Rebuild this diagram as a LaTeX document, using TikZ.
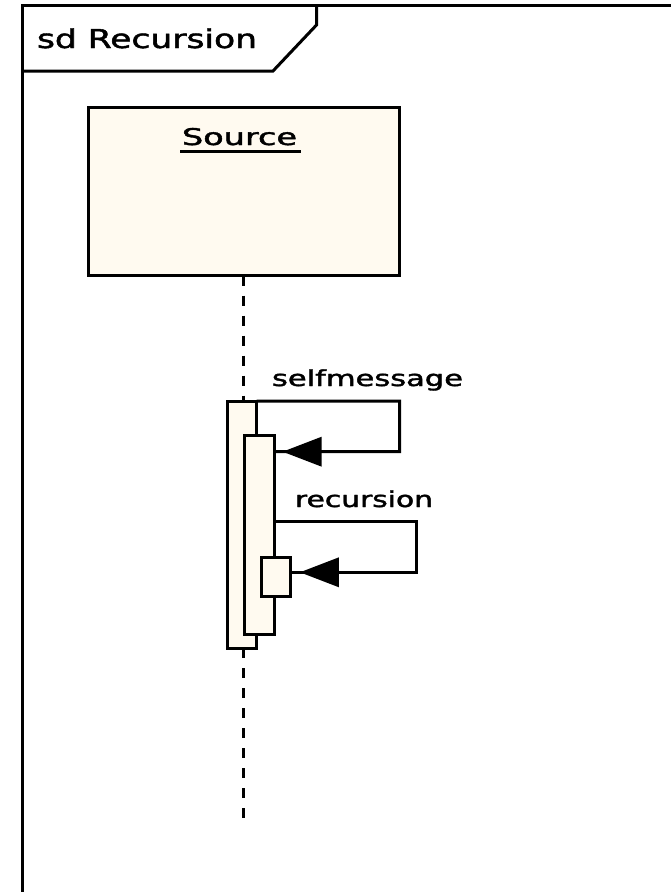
\documentclass[tikz,border=0pt]{standalone}
\usepackage{fontspec}
\usepackage{graphicx}
\newfontfamily\pixfont[FakeBold=1.6]{DejaVu Sans}
\usetikzlibrary{calc}
\definecolor{cream}{RGB}{255,250,240}
\begin{document}
\begin{tikzpicture}[x=1pt,y=-1pt,line width=3pt,
  box/.style={draw=black,fill=cream,line width=3pt,inner sep=0pt,outer sep=0pt,rectangle},
  lbl/.style={inner sep=0pt,outer sep=0pt,font=\pixfont},
  life/.style={line width=3pt,dash pattern=on 10pt off 10pt},
  msg/.style={line width=3pt},
  head/.style={fill=black}
]
\useasboundingbox (0,0) rectangle (670,892);
\fill[white] (0,0) rectangle (670,892);
% frame
\draw (22.5,895) -- (22.5,5.5) -- (672,5.5);
\draw (22.5,71) -- (273,71) -- (316.5,25) -- (316.5,5.5);
\node[lbl,anchor=base west] (title) at (37,48) {\fontsize{26}{30}\selectfont\resizebox{220pt}{\height}{sd Recursion}};
% lifeline head
\node[box,minimum width=311pt,minimum height=168.5pt] (src) at (243.5,191.25) {};
\node[lbl,anchor=base] (srclabel) at (239.5,145) {\fontsize{23}{27}\selectfont\resizebox{115pt}{\height}{Source}};
\draw ($(srclabel.base west)+(-2,6.5)$) -- ($(srclabel.base east)+(4,6.5)$);
% lifeline
\coordinate (lifeend) at (243.5,828);
\node[box,minimum width=29.2pt,minimum height=247.3pt] (outer) at (242.1,524.7) {};
\draw[life] (src.south -| lifeend) -- (outer.north -| lifeend);
\draw[life] (outer.south -| lifeend) -- (lifeend);
\node[box,minimum width=30pt,minimum height=199.3pt] (inner) at (259.3,535.3) {};
\node[box,minimum width=29.3pt,minimum height=39.4pt] (small) at (276.3,577) {};
% selfmessage
\coordinate (smret) at (inner.east |- 0,451.7);
\draw[msg] (outer.north east) -- (399.5,401) |- (smret);
\fill[head] ($(smret)+(8.4,0)$) -- ++(39,-15) -- ++(0,30) -- cycle;
\node[lbl,anchor=base west] (smlabel) at (272,386) {\fontsize{22}{26}\selectfont\resizebox{191pt}{\height}{selfmessage}};
% recursion
\coordinate (recout) at (inner.east |- 0,521.7);
\coordinate (recret) at (small.east |- 0,572.3);
\draw[msg] (recout) -- (416.7,521.7) |- (recret);
\fill[head] ($(recret)+(9,0)$) -- ++(39,-15) -- ++(0,30) -- cycle;
\node[lbl,anchor=base west] (reclabel) at (295,507) {\fontsize{22}{26}\selectfont\resizebox{138pt}{\height}{recursion}};
\end{tikzpicture}
\end{document}
